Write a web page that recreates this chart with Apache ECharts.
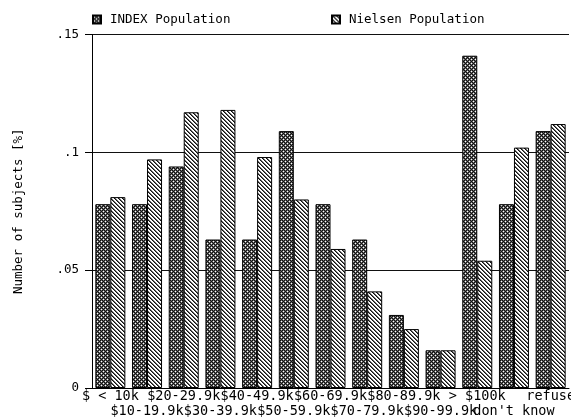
<!DOCTYPE html>
<html>
<head>
<meta charset="utf-8">
<script src="https://cdn.jsdelivr.net/npm/echarts@6/dist/echarts.min.js"></script>
<style>
  html, body { margin: 0; padding: 0; background: #fff; }
  #chart { width: 571px; height: 417px; }
</style>
</head>
<body>
<div id="chart"></div>
<script>
// Household income brackets
const categories = ['$ < 10k', '$10-19.9k', '$20-29.9k', '$30-39.9k', '$40-49.9k',
  '$50-59.9k', '$60-69.9k', '$70-79.9k', '$80-89.9k', '$90-99.9k',
  '> $100k', "don't know", 'refuse'];

// Share of subjects in each bracket
const indexPopulation = [0.078, 0.078, 0.094, 0.063, 0.063, 0.109, 0.078,
  0.063, 0.031, 0.016, 0.141, 0.078, 0.109];
const nielsenPopulation = [0.081, 0.097, 0.117, 0.118, 0.098, 0.080, 0.059,
  0.041, 0.025, 0.016, 0.054, 0.102, 0.112];

const yTicks = [0, 0.05, 0.1, 0.15];
const yTickLabels = ['0', '.05', '.1', '.15'];

const FONT = '"DejaVu Sans Mono", "Liberation Mono", monospace';

// Cross-hatch tile: dark diamond lattice with light holes
function crossHatch() {
  const c = document.createElement('canvas');
  c.width = 4; c.height = 4;
  const g = c.getContext('2d');
  g.fillStyle = '#111';
  g.fillRect(0, 0, 4, 4);
  g.fillStyle = '#666';
  [[0,1],[2,1],[1,0],[1,2],[2,3],[0,3],[3,2],[3,0]].forEach(p => g.fillRect(p[0], p[1], 1, 1));
  g.fillStyle = '#fff';
  g.fillRect(1, 1, 1, 1);
  g.fillRect(3, 3, 1, 1);
  return c;
}

// Diagonal stripe tile running top-left to bottom-right
function diagonal() {
  const c = document.createElement('canvas');
  c.width = 4; c.height = 4;
  const g = c.getContext('2d');
  g.fillStyle = '#fff';
  g.fillRect(0, 0, 4, 4);
  for (let i = 0; i < 4; i++) {
    g.fillStyle = '#111';
    g.fillRect(i, i, 1, 1);
    g.fillStyle = '#666';
    g.fillRect((i + 1) % 4, i, 1, 1);
  }
  return c;
}

const chart = echarts.init(document.getElementById('chart'), null, { renderer: 'canvas' });

chart.setOption({
  animation: false,
  backgroundColor: '#fff',
  textStyle: { fontFamily: FONT, color: '#000' },
  legend: [
    {
      data: ['INDEX Population'],
      left: 87, top: 8,
      icon: 'rect', itemWidth: 8, itemHeight: 8, itemGap: 0,
      textStyle: { fontFamily: FONT, fontSize: 12.5, color: '#000', padding: [0, 0, 0, 4] }
    },
    {
      data: ['Nielsen Population'],
      left: 326, top: 8,
      icon: 'rect', itemWidth: 8, itemHeight: 8, itemGap: 0,
      textStyle: { fontFamily: FONT, fontSize: 12.5, color: '#000', padding: [0, 0, 0, 4] }
    }
  ],
  grid: { left: 92, right: 2, top: 34.5, bottom: 29, containLabel: false, outerBoundsMode: 'none' },
  xAxis: {
    type: 'category',
    data: categories,
    axisLine: { lineStyle: { color: '#000', width: 1 } },
    axisTick: { show: false },
    axisLabel: {
      interval: 0,
      margin: 1,
      hideOverlap: false,
      fontFamily: FONT,
      fontSize: 13.5,
      lineHeight: 15,
      color: '#000',
      formatter: (v, i) => (i % 2 ? '\n' + v : v)
    }
  },
  yAxis: {
    type: 'value',
    min: 0, max: 0.15, interval: 0.05,
    name: 'Number of subjects [%]',
    nameLocation: 'middle',
    nameGap: 67,
    nameTextStyle: { fontFamily: FONT, fontSize: 12.5, color: '#000' },
    axisLine: { show: true, lineStyle: { color: '#000', width: 1 } },
    axisTick: { show: true, length: 7, lineStyle: { color: '#000' } },
    axisLabel: {
      margin: 13,
      fontFamily: FONT, fontSize: 12.5, color: '#000',
      formatter: v => {
        const k = yTicks.findIndex(t => Math.abs(t - v) < 1e-9);
        return k >= 0 ? yTickLabels[k] : '';
      }
    },
    splitLine: { show: true, lineStyle: { color: '#111', width: 1 } }
  },
  series: [
    {
      name: 'INDEX Population',
      type: 'bar',
      data: indexPopulation,
      barWidth: 15,
      barGap: '0%',
      itemStyle: { color: { image: crossHatch(), repeat: 'repeat' }, borderColor: '#000', borderWidth: 1 }
    },
    {
      name: 'Nielsen Population',
      type: 'bar',
      data: nielsenPopulation,
      barWidth: 15,
      barGap: '0%',
      itemStyle: { color: { image: diagonal(), repeat: 'repeat' }, borderColor: '#000', borderWidth: 1 }
    }
  ]
});
</script>
</body>
</html>
